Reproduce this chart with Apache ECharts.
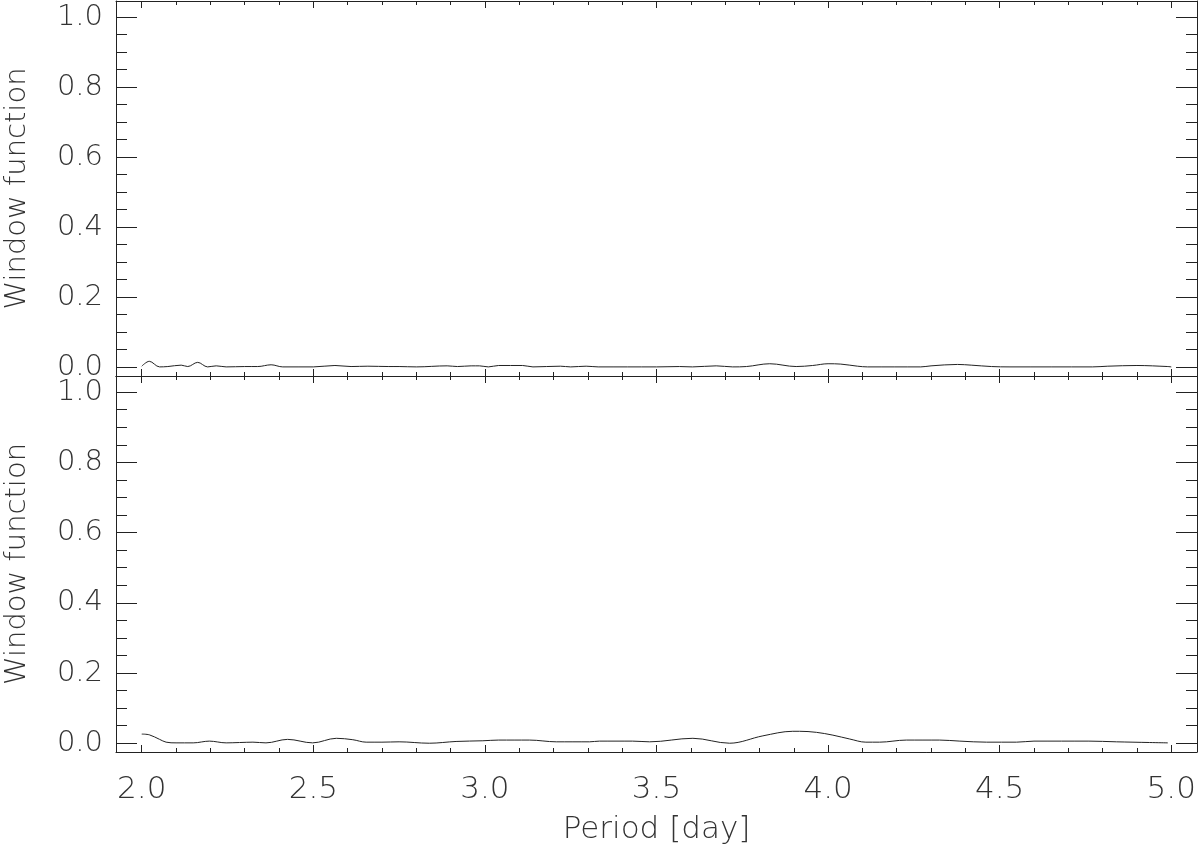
<!DOCTYPE html>
<html>
<head>
<meta charset="utf-8">
<title>Window function</title>
<script src="https://cdn.jsdelivr.net/npm/echarts@6/dist/echarts.min.js"></script>
<style>
  html, body { margin: 0; padding: 0; background: #fff; }
  #chart { width: 1200px; height: 853px; }
</style>
</head>
<body>
<div id="chart"></div>
<script>
// window function vs period, two stacked panels sharing the x axis

var topPeriod = [2.000, 2.022, 2.052, 2.076, 2.115, 2.134, 2.163, 2.192, 2.217, 2.246,
  2.300, 2.338, 2.377, 2.411, 2.500, 2.563, 2.610, 2.659, 2.720, 2.750,
  2.800, 2.890, 2.920, 2.960, 2.984, 3.010, 3.040, 3.110, 3.140, 3.220,
  3.250, 3.295, 3.330, 3.500, 3.567, 3.605, 3.674, 3.722, 3.762, 3.830,
  3.907, 3.955, 4.000, 4.037, 4.086, 4.115, 4.270, 4.300, 4.377, 4.417,
  4.476, 4.530, 4.770, 4.815, 4.900, 4.990, 5.000];
var topWindow = [0.003, 0.017, 0.001, 0.002, 0.006, 0.002, 0.014, 0.001, 0.004, 0.001,
  0.002, 0.002, 0.007, 0.001, 0.001, 0.005, 0.002, 0.003, 0.002, 0.002,
  0.001, 0.004, 0.002, 0.004, 0.004, 0.001, 0.005, 0.005, 0.001, 0.003,
  0.001, 0.003, 0.001, 0.001, 0.002, 0.001, 0.004, 0.001, 0.002, 0.010,
  0.002, 0.005, 0.010, 0.009, 0.003, 0.001, 0.001, 0.004, 0.008, 0.006,
  0.002, 0.001, 0.001, 0.003, 0.005, 0.002, 0.001];

var bottomPeriod = [2.000, 2.022, 2.052, 2.071, 2.100, 2.150, 2.197, 2.246, 2.285, 2.324,
  2.362, 2.425, 2.498, 2.567, 2.615, 2.654, 2.700, 2.750, 2.838, 2.916,
  2.994, 3.040, 3.130, 3.208, 3.305, 3.334, 3.430, 3.480, 3.606, 3.713,
  3.810, 3.897, 3.917, 3.966, 4.014, 4.063, 4.110, 4.150, 4.228, 4.325,
  4.384, 4.462, 4.549, 4.600, 4.760, 4.840, 4.937, 4.990];
var bottomWindow = [0.026, 0.024, 0.011, 0.003, 0.001, 0.001, 0.006, 0.001, 0.002, 0.003,
  0.001, 0.011, 0.001, 0.014, 0.010, 0.003, 0.003, 0.004, 0.000, 0.005,
  0.007, 0.009, 0.009, 0.004, 0.004, 0.006, 0.006, 0.004, 0.014, 0.000,
  0.021, 0.034, 0.034, 0.031, 0.023, 0.012, 0.003, 0.003, 0.009, 0.009,
  0.006, 0.003, 0.003, 0.006, 0.006, 0.004, 0.002, 0.001];

var xTicks = [2.0, 2.5, 3.0, 3.5, 4.0, 4.5, 5.0];
var yTicks = [0.0, 0.2, 0.4, 0.6, 0.8, 1.0];

var X_MIN = 1.925, X_MAX = 5.075;
var Y_MIN = -0.025, Y_MAX = 1.046;

function steps(a, b, d) {
  var out = [];
  for (var v = a; v <= b + 1e-9; v += d) out.push(Math.round(v * 1000) / 1000);
  return out;
}
var xMinor = steps(2.0, 5.0, 0.1);
var yMinor = steps(0.0, 1.0, 0.05);

function pairs(xs, ys) {
  return xs.map(function (x, i) { return [x, ys[i]]; });
}

var FONT = 'DejaVu Sans';
var INK = '#222';
var TXT = '#333';

var grids = [
  { left: 116, right: 3, top: 1, height: 375, outerBoundsMode: 'none', containLabel: false },
  { left: 116, right: 3, top: 376, height: 376, outerBoundsMode: 'none', containLabel: false }
];

var xAxes = [];
var yAxes = [];

grids.forEach(function (g, gi) {
  var last = gi === grids.length - 1;
  ['bottom', 'top'].forEach(function (pos) {
    // major ticks (and labels on the lowest axis)
    xAxes.push({
      type: 'value', gridIndex: gi, position: pos, min: X_MIN, max: X_MAX,
      splitLine: { show: false },
      axisLine: { show: true, onZero: false, lineStyle: { color: INK, width: 1 } },
      axisTick: { show: true, inside: true, length: 7, customValues: xTicks,
        lineStyle: { color: INK, width: 1 } },
      axisLabel: {
        show: last && pos === 'bottom', customValues: xTicks, margin: 22,
        fontFamily: FONT, fontWeight: 200, fontSize: 31, color: TXT,
        formatter: function (v) { return v.toFixed(1); }
      },
      name: last && pos === 'bottom' ? 'Period [day]' : '',
      nameLocation: 'middle', nameGap: 62,
      nameTextStyle: { fontFamily: FONT, fontWeight: 200, fontSize: 31, color: TXT }
    });
    // minor ticks
    xAxes.push({
      type: 'value', gridIndex: gi, position: pos, min: X_MIN, max: X_MAX,
      splitLine: { show: false },
      axisLine: { show: false, onZero: false },
      axisTick: { show: true, inside: true, length: 4, customValues: xMinor,
        lineStyle: { color: INK, width: 1 } },
      axisLabel: { show: false }
    });
  });
  ['left', 'right'].forEach(function (pos) {
    yAxes.push({
      type: 'value', gridIndex: gi, position: pos, min: Y_MIN, max: Y_MAX,
      splitLine: { show: false },
      axisLine: { show: true, onZero: false, lineStyle: { color: INK, width: 1 } },
      axisTick: { show: true, inside: true, length: 21, customValues: yTicks,
        lineStyle: { color: INK, width: 1 } },
      axisLabel: {
        show: pos === 'left', customValues: yTicks, margin: 13,
        fontFamily: FONT, fontWeight: 200, fontSize: 29, color: TXT,
        formatter: function (v) { return v.toFixed(1); }
      },
      name: pos === 'left' ? 'Window function' : '',
      nameLocation: 'middle', nameGap: 84,
      nameTextStyle: { fontFamily: FONT, fontWeight: 200, fontSize: 29, color: TXT }
    });
    yAxes.push({
      type: 'value', gridIndex: gi, position: pos, min: Y_MIN, max: Y_MAX,
      splitLine: { show: false },
      axisLine: { show: false, onZero: false },
      axisTick: { show: true, inside: true, length: 11, customValues: yMinor,
        lineStyle: { color: INK, width: 1 } },
      axisLabel: { show: false }
    });
  });
});

var myChart = echarts.init(document.getElementById('chart'), null, { renderer: 'canvas' });

var option = {
  animation: false,
  backgroundColor: '#fff',
  grid: grids,
  xAxis: xAxes,
  yAxis: yAxes,
  series: [
    {
      type: 'line', xAxisIndex: 0, yAxisIndex: 0,
      data: pairs(topPeriod, topWindow),
      smooth: 0.35, showSymbol: false,
      lineStyle: { color: INK, width: 1 }
    },
    {
      type: 'line', xAxisIndex: 4, yAxisIndex: 4,
      data: pairs(bottomPeriod, bottomWindow),
      smooth: 0.35, showSymbol: false,
      lineStyle: { color: INK, width: 1 }
    }
  ]
};

myChart.setOption(option);
</script>
</body>
</html>
